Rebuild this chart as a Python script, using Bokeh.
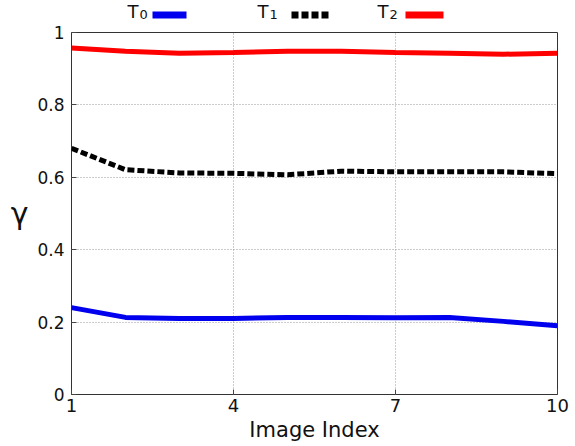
from bokeh.plotting import figure
from bokeh.models import FixedTicker, Range1d
from bokeh.layouts import column
from bokeh.core.properties import value
from bokeh.embed import file_html
from bokeh.resources import INLINE

x_index = [1, 2, 3, 4, 5, 6, 7, 8, 9, 10]
t0 = [0.240, 0.213, 0.210, 0.210, 0.213, 0.213, 0.212, 0.213, 0.202, 0.190]
t1 = [0.680, 0.621, 0.612, 0.611, 0.607, 0.617, 0.615, 0.615, 0.615, 0.610]
t2 = [0.957, 0.948, 0.943, 0.945, 0.948, 0.948, 0.945, 0.943, 0.940, 0.943]

x_ticks = [1, 4, 7, 10]
y_ticks = [0, 0.2, 0.4, 0.6, 0.8, 1.0]
y_tick_labels = ["0", "0.2", "0.4", "0.6", "0.8", "1"]
legend_names = ["T", "T", "T"]
legend_subs = ["0", "1", "2"]
series_colors = ["#0000ee", "black", "#ff0000"]
series_dash = ["solid", "7 3", "solid"]

FONT = "DejaVu Sans"
W = 575
LEFT, RIGHT = 71, 18
STRIP_H = 22

# ---- main chart ----
p = figure(width=W, height=446 - STRIP_H, output_backend="svg", toolbar_location=None,
           x_range=Range1d(1, 10), y_range=Range1d(0, 1),
           min_border_left=LEFT, min_border_right=RIGHT, min_border_top=10, min_border_bottom=52)

p.outline_line_color = "#333333"
p.outline_line_width = 1

p.xaxis.ticker = FixedTicker(ticks=x_ticks)
p.yaxis.ticker = FixedTicker(ticks=y_ticks)
p.yaxis.major_label_overrides = {t: l for t, l in zip(y_ticks, y_tick_labels)}
for ax in (p.xaxis, p.yaxis):
    ax.axis_line_color = None
    ax.major_tick_in = 5
    ax.major_tick_out = 0
    ax.minor_tick_line_color = None
    ax.major_tick_line_color = "#444444"
    ax.major_label_text_font = FONT
    ax.major_label_text_color = "#111111"
    ax.axis_label_text_font = FONT
    ax.axis_label_text_font_style = "normal"
    ax.axis_label_text_color = "#111111"
p.xaxis.major_label_text_font_size = "18px"
p.yaxis.major_label_text_font_size = "17px"

p.xaxis.axis_label = "Image Index"
p.xaxis.axis_label_text_font_size = "21px"
p.xaxis.major_label_standoff = 4
p.xaxis.axis_label_standoff = 3

p.yaxis.axis_label = "γ"
p.yaxis.axis_label_text_font_size = "30px"
p.yaxis.axis_label_orientation = "horizontal"
p.yaxis.major_label_standoff = 7
p.yaxis.axis_label_standoff = 6

p.xgrid.ticker = FixedTicker(ticks=[4, 7])
p.ygrid.ticker = FixedTicker(ticks=[0.2, 0.4, 0.6, 0.8])
for g in (p.xgrid, p.ygrid):
    g.grid_line_color = "#999999"
    g.grid_line_dash = "1 2"
    g.grid_line_width = 1

for ys, c, d in zip([t0, t1, t2], series_colors, series_dash):
    p.line(x_index, ys, line_color=c, line_width=5, line_dash=d)

# ---- legend strip (name followed by sample line); x in page pixels, y up from strip bottom ----
lg = figure(width=W, height=STRIP_H, output_backend="svg", toolbar_location=None,
            x_range=Range1d(LEFT, W - RIGHT), y_range=Range1d(0, STRIP_H),
            min_border_left=LEFT, min_border_right=RIGHT, min_border_top=0, min_border_bottom=0)
lg.axis.visible = False
lg.grid.visible = False
lg.outline_line_color = None

name_x = [127, 257, 377]
sample_x0 = [152, 291, 405]
sample_x1 = [186, 328, 443]
lg.text(x=name_x, y=[11] * 3, text=legend_names, text_font=value(FONT),
        text_font_size="18px", text_color="#111111", text_baseline="middle")
lg.text(x=[v + 12 for v in name_x], y=[7.8] * 3, text=legend_subs, text_font=value(FONT),
        text_font_size="13px", text_color="#111111", text_baseline="middle")
for x0, x1, c, d in zip(sample_x0, sample_x1, series_colors, series_dash):
    lg.segment(x0=[x0], y0=[7.5], x1=[x1], y1=[7.5], line_color=c, line_width=7,
               line_dash=d, line_cap="butt")

layout = column(lg, p, spacing=0)
open("out.html", "w").write(file_html(layout, INLINE))
